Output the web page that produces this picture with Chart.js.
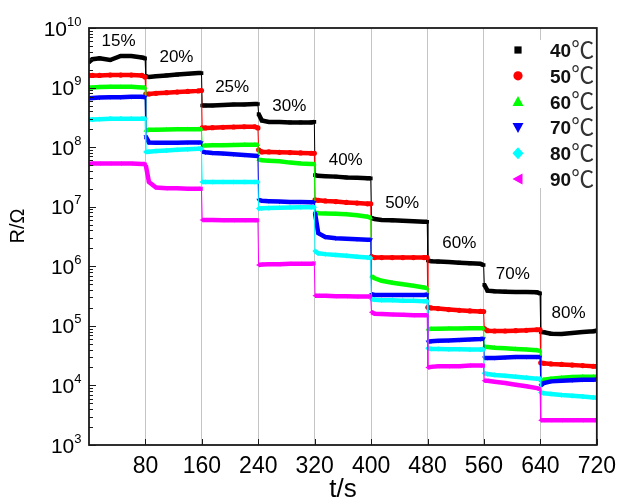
<!DOCTYPE html>
<html>
<head>
<meta charset="utf-8">
<script src="https://cdn.jsdelivr.net/npm/chart.js@4.4.1/dist/chart.umd.min.js"></script>
<style>
  html, body { margin: 0; padding: 0; background: #fff; }
  #wrap { width: 624px; height: 501px; }
</style>
</head>
<body>
<div id="wrap"><canvas id="c" width="624" height="501"></canvas></div>
<script>
// Sampling times (s) within each 80 s humidity step
const times = [
  0, 5, 15, 30, 45, 60, 75, 79.5,
  80.5, 85, 95, 110, 125, 140, 155, 159.5,
  160.5, 165, 175, 190, 205, 220, 235, 239.5,
  240.5, 245, 255, 270, 285, 300, 315, 319.5,
  320.5, 325, 335, 350, 365, 380, 395, 399.5,
  400.5, 405, 415, 430, 445, 460, 475, 479.5,
  480.5, 485, 495, 510, 525, 540, 555, 559.5,
  560.5, 565, 575, 590, 605, 620, 635, 639.5,
  640.5, 645, 655, 670, 685, 700, 715, 720
];

// Resistance (Ohm) at each temperature
const r40 = [
  2.7e9, 3.0e9, 3.1e9, 2.9e9, 3.4e9, 3.4e9, 3.2e9, 3.1e9,
  1.55e9, 1.5e9, 1.55e9, 1.6e9, 1.65e9, 1.7e9, 1.75e9, 1.75e9,
  5.0e8, 5.0e8, 5.0e8, 5.1e8, 5.2e8, 5.2e8, 5.3e8, 5.3e8,
  3.6e8, 2.8e8, 2.65e8, 2.65e8, 2.6e8, 2.6e8, 2.6e8, 2.65e8,
  3.4e7, 3.3e7, 3.25e7, 3.2e7, 3.1e7, 3.05e7, 3.0e7, 3.0e7,
  6.5e6, 6.2e6, 6.0e6, 5.9e6, 5.8e6, 5.7e6, 5.6e6, 5.6e6,
  1.25e6, 1.22e6, 1.2e6, 1.18e6, 1.15e6, 1.12e6, 1.1e6, 1.05e6,
  4.9e5, 3.9e5, 3.8e5, 3.75e5, 3.7e5, 3.7e5, 3.65e5, 3.5e5,
  7.9e4, 7.8e4, 7.4e4, 7.3e4, 7.6e4, 7.9e4, 8.1e4, 8.3e4
];
const r50 = [
  1.6e9, 1.6e9, 1.6e9, 1.62e9, 1.62e9, 1.62e9, 1.6e9, 1.5e9,
  7.8e8, 7.8e8, 8.0e8, 8.2e8, 8.4e8, 8.6e8, 8.8e8, 8.9e8,
  2.1e8, 2.1e8, 2.12e8, 2.15e8, 2.18e8, 2.2e8, 2.2e8, 2.1e8,
  9.0e7, 8.3e7, 8.3e7, 8.2e7, 8.1e7, 8.0e7, 7.9e7, 7.9e7,
  1.3e7, 1.28e7, 1.25e7, 1.22e7, 1.18e7, 1.15e7, 1.12e7, 1.12e7,
  1.45e6, 1.4e6, 1.4e6, 1.4e6, 1.4e6, 1.4e6, 1.4e6, 1.4e6,
  2.05e5, 2.0e5, 1.95e5, 1.88e5, 1.82e5, 1.78e5, 1.75e5, 1.74e5,
  9.0e4, 8.3e4, 8.2e4, 8.2e4, 8.3e4, 8.4e4, 8.6e4, 8.6e4,
  2.4e4, 2.35e4, 2.3e4, 2.25e4, 2.2e4, 2.15e4, 2.1e4, 2.1e4
];
const r60 = [
  1.0e9, 1.0e9, 1.02e9, 1.03e9, 1.03e9, 1.03e9, 1.0e9, 1.0e9,
  1.9e8, 1.95e8, 1.95e8, 1.97e8, 2.0e8, 2.0e8, 2.0e8, 2.0e8,
  1.05e8, 1.07e8, 1.08e8, 1.08e8, 1.09e8, 1.1e8, 1.1e8, 1.1e8,
  6.2e7, 6.0e7, 5.9e7, 5.8e7, 5.5e7, 5.3e7, 5.2e7, 5.2e7,
  7.9e6, 7.8e6, 7.7e6, 7.6e6, 7.5e6, 7.2e6, 6.8e6, 6.5e6,
  6.8e5, 6.3e5, 5.7e5, 5.3e5, 5.0e5, 4.7e5, 4.4e5, 4.3e5,
  8.8e4, 8.9e4, 8.9e4, 9.0e4, 9.0e4, 9.1e4, 9.1e4, 9.1e4,
  4.5e4, 4.4e4, 4.3e4, 4.2e4, 4.1e4, 4.0e4, 3.9e4, 3.8e4,
  1.2e4, 1.25e4, 1.3e4, 1.35e4, 1.38e4, 1.4e4, 1.4e4, 1.4e4
];
const r70 = [
  6.6e8, 6.7e8, 6.8e8, 6.9e8, 6.9e8, 7.0e8, 7.0e8, 6.9e8,
  1.5e8, 1.2e8, 1.19e8, 1.19e8, 1.19e8, 1.2e8, 1.2e8, 1.2e8,
  8.4e7, 8.2e7, 8.0e7, 7.8e7, 7.6e7, 7.4e7, 7.2e7, 7.1e7,
  1.3e7, 1.26e7, 1.24e7, 1.22e7, 1.2e7, 1.2e7, 1.19e7, 1.19e7,
  7.8e6, 3.6e6, 3.1e6, 2.95e6, 2.9e6, 2.85e6, 2.8e6, 2.8e6,
  3.4e5, 3.3e5, 3.3e5, 3.3e5, 3.3e5, 3.3e5, 3.3e5, 3.35e5,
  5.4e4, 5.5e4, 5.6e4, 5.7e4, 5.8e4, 5.9e4, 6.0e4, 6.1e4,
  2.9e4, 2.9e4, 2.9e4, 2.95e4, 3.0e4, 3.0e4, 3.0e4, 3.0e4,
  1.0e4, 1.1e4, 1.17e4, 1.2e4, 1.22e4, 1.24e4, 1.25e4, 1.26e4
];
const r80 = [
  2.9e8, 2.9e8, 2.95e8, 3.0e8, 3.0e8, 3.0e8, 3.0e8, 3.0e8,
  8.3e7, 8.4e7, 8.6e7, 8.8e7, 9.0e7, 9.2e7, 9.4e7, 9.4e7,
  2.6e7, 2.6e7, 2.6e7, 2.6e7, 2.6e7, 2.6e7, 2.6e7, 2.6e7,
  9.3e6, 9.4e6, 9.5e6, 9.6e6, 9.7e6, 9.8e6, 9.8e6, 9.8e6,
  1.8e6, 1.65e6, 1.6e6, 1.55e6, 1.5e6, 1.45e6, 1.4e6, 1.38e6,
  2.8e5, 2.75e5, 2.7e5, 2.7e5, 2.65e5, 2.65e5, 2.6e5, 2.6e5,
  4.2e4, 4.1e4, 4.1e4, 4.05e4, 4.05e4, 4.0e4, 4.0e4, 4.0e4,
  1.6e4, 1.55e4, 1.5e4, 1.45e4, 1.4e4, 1.35e4, 1.3e4, 1.3e4,
  7.6e3, 7.4e3, 7.2e3, 6.9e3, 6.7e3, 6.5e3, 6.3e3, 6.2e3
];
const r90 = [
  5.2e7, 5.3e7, 5.3e7, 5.3e7, 5.3e7, 5.3e7, 5.2e7, 5.2e7,
  5.0e7, 2.6e7, 2.1e7, 2.05e7, 2.05e7, 2.0e7, 2.0e7, 2.0e7,
  6.0e6, 6.0e6, 6.0e6, 5.9e6, 5.9e6, 5.9e6, 5.9e6, 5.9e6,
  1.05e6, 1.07e6, 1.08e6, 1.08e6, 1.1e6, 1.1e6, 1.1e6, 1.12e6,
  3.2e5, 3.2e5, 3.2e5, 3.15e5, 3.15e5, 3.1e5, 3.1e5, 3.1e5,
  1.7e5, 1.6e5, 1.58e5, 1.55e5, 1.53e5, 1.5e5, 1.5e5, 1.5e5,
  2.0e4, 2.05e4, 2.1e4, 2.1e4, 2.1e4, 2.15e4, 2.15e4, 2.15e4,
  1.2e4, 1.2e4, 1.15e4, 1.1e4, 1.03e4, 9.7e3, 9.0e3, 8.7e3,
  2.6e3, 2.6e3, 2.6e3, 2.6e3, 2.6e3, 2.6e3, 2.6e3, 2.6e3
];

const seriesNames = ['40', '50', '60', '70', '80', '90'];
const seriesValues = [r40, r50, r60, r70, r80, r90];
const seriesColors = ['#000000', '#ff0000', '#00ff00', '#0000ff', '#00ffff', '#ff00ff'];
const seriesMarkers = ['square', 'circle', 'up', 'down', 'diamond', 'left'];

// x ticks (s) and y decades
const xTicks = [80, 160, 240, 320, 400, 480, 560, 640, 720];
const yDecades = [3, 4, 5, 6, 7, 8, 9, 10];

// Relative humidity steps and where their labels sit (t, R)
const rhLabels = ['15%', '20%', '25%', '30%', '40%', '50%', '60%', '70%', '80%'];
const rhLabelT = [42, 124, 203, 284, 364, 444, 525, 601, 680];
const rhLabelR = [6.0e9, 3.2e9, 1.0e9, 4.9e8, 5.9e7, 1.14e7, 2.4e6, 7.4e5, 1.6e5];

const FONT = '"Liberation Sans", Arial, Helvetica, sans-serif';

const styleMap = {
  square:  { pointStyle: 'rect', rot: 0 },
  circle:  { pointStyle: 'circle', rot: 0 },
  up:      { pointStyle: 'triangle', rot: 0 },
  down:    { pointStyle: 'triangle', rot: 180 },
  diamond: { pointStyle: 'rectRot', rot: 0 },
  left:    { pointStyle: 'triangle', rot: -90 }
};

const datasets = seriesValues.map((vals, i) => ({
  label: seriesNames[i] + '\u2103',
  data: times.map((t, k) => ({ x: t, y: vals[k] })),
  borderColor: seriesColors[i],
  backgroundColor: seriesColors[i],
  pointBackgroundColor: seriesColors[i],
  pointBorderWidth: 0,
  pointRadius: 2.6,
  pointStyle: styleMap[seriesMarkers[i]].pointStyle,
  pointRotation: styleMap[seriesMarkers[i]].rot,
  borderWidth: 4.5,
  tension: 0,
  order: 6 - i,
  segment: {
    // thin connector where the humidity switches, thick band within a step
    borderWidth: c => (c.p1.parsed.x - c.p0.parsed.x) < 2 ? 1 : 4.5
  }
}));

function drawMarker(ctx, kind, x, y, color) {
  ctx.save();
  ctx.fillStyle = color;
  ctx.beginPath();
  if (kind === 'square') {
    ctx.rect(x - 3.6, y - 3.6, 7.2, 7.2);
  } else if (kind === 'circle') {
    ctx.arc(x, y, 4.6, 0, Math.PI * 2);
  } else if (kind === 'up') {
    ctx.moveTo(x, y - 5.5); ctx.lineTo(x + 5.5, y + 4.5); ctx.lineTo(x - 5.5, y + 4.5);
  } else if (kind === 'down') {
    ctx.moveTo(x, y + 5.5); ctx.lineTo(x + 5.5, y - 4.5); ctx.lineTo(x - 5.5, y - 4.5);
  } else if (kind === 'diamond') {
    ctx.moveTo(x, y - 6); ctx.lineTo(x + 5.5, y); ctx.lineTo(x, y + 6); ctx.lineTo(x - 5.5, y);
  } else if (kind === 'left') {
    ctx.moveTo(x - 5.5, y); ctx.lineTo(x + 4.5, y - 5.5); ctx.lineTo(x + 4.5, y + 5.5);
  }
  ctx.closePath();
  ctx.fill();
  ctx.restore();
}

const decorations = {
  id: 'decorations',
  afterDatasetsDraw(chart) {
    const { ctx, chartArea: a, scales: { x, y } } = chart;
    ctx.save();

    // humidity labels
    ctx.fillStyle = '#000';
    ctx.font = '17px ' + FONT;
    ctx.textAlign = 'center';
    ctx.textBaseline = 'middle';
    rhLabels.forEach((s, i) => {
      ctx.fillText(s, x.getPixelForValue(rhLabelT[i]), y.getPixelForValue(rhLabelR[i]));
    });

    // legend panel
    ctx.fillStyle = '#fff';
    ctx.fillRect(502, 40, 96, 148);
    const rowY0 = 50, rowStep = 25.8;
    seriesNames.forEach((n, i) => {
      const ry = rowY0 + i * rowStep;
      drawMarker(ctx, seriesMarkers[i], 518, ry, seriesColors[i]);
      ctx.fillStyle = '#111';
      ctx.textAlign = 'left';
      ctx.textBaseline = 'alphabetic';
      ctx.font = 'bold 19px ' + FONT;
      ctx.fillText(n, 550, ry + 7);
      const w = ctx.measureText(n).width;
      ctx.font = '23px "Noto Sans CJK SC", "DejaVu Sans", sans-serif';
      ctx.fillStyle = '#333';
      ctx.fillText('\u2103', 550 + w, ry + 7.5);
    });

    // frame
    ctx.strokeStyle = '#1a1a1a';
    ctx.lineWidth = 1.8;
    ctx.strokeRect(a.left, a.top, a.right - a.left, a.bottom - a.top);

    // inward ticks: x majors
    ctx.lineWidth = 1;
    ctx.beginPath();
    xTicks.forEach(v => {
      const px = Math.round(x.getPixelForValue(v)) + 0.5;
      ctx.moveTo(px, a.bottom);
      ctx.lineTo(px, a.bottom - 6);
    });
    // y majors and minors
    yDecades.forEach(p => {
      for (let m = 1; m <= 9; m++) {
        const v = m * Math.pow(10, p);
        if (v > 1e10) break;
        const py = Math.round(y.getPixelForValue(v)) + 0.5;
        ctx.moveTo(a.left, py);
        ctx.lineTo(a.left + (m === 1 ? 7 : 4), py);
      }
    });
    ctx.stroke();

    // y decade labels with superscript exponents
    ctx.fillStyle = '#000';
    yDecades.forEach(p => {
      const py = y.getPixelForValue(Math.pow(10, p));
      const exp = String(p);
      ctx.font = '13px ' + FONT;
      const ew = ctx.measureText(exp).width;
      ctx.textAlign = 'left';
      ctx.textBaseline = 'alphabetic';
      ctx.fillText(exp, 81.5 - ew, py - 2.5);
      ctx.font = '21px ' + FONT;
      ctx.textAlign = 'right';
      ctx.fillText('10', 81.5 - ew, py + 7.6);
    });

    // y axis title
    ctx.save();
    ctx.translate(18, 226);
    ctx.rotate(-Math.PI / 2);
    ctx.font = '20px ' + FONT;
    ctx.textAlign = 'center';
    ctx.textBaseline = 'middle';
    ctx.fillText('R/\u03A9', 0, 0);
    ctx.restore();

    ctx.restore();
  }
};

new Chart(document.getElementById('c'), {
  type: 'line',
  data: { datasets },
  plugins: [decorations],
  options: {
    responsive: false,
    animation: false,
    events: [],
    layout: { padding: { top: 28, right: 22, left: 0, bottom: 0 } },
    plugins: { legend: { display: false }, tooltip: { enabled: false } },
    scales: {
      x: {
        type: 'linear',
        min: 0,
        max: 720,
        afterBuildTicks: s => { s.ticks = xTicks.map(v => ({ value: v })); },
        afterFit: s => { s.height = 56; },
        border: { display: false },
        grid: { color: '#c4c4c4', lineWidth: 1, drawTicks: false },
        ticks: {
          color: '#000',
          padding: 8,
          maxRotation: 0,
          autoSkip: false,
          font: { family: FONT, size: 23 }
        },
        title: {
          display: true,
          text: 't/s',
          color: '#000',
          font: { family: FONT, size: 26, lineHeight: 0.85 },
          padding: { top: 0, bottom: 0 }
        }
      },
      y: {
        type: 'logarithmic',
        min: 1e3,
        max: 1e10,
        afterFit: s => { s.width = 89; },
        border: { display: false },
        grid: { display: false },
        ticks: { display: false },
        title: { display: false }
      }
    }
  }
});
</script>
</body>
</html>
